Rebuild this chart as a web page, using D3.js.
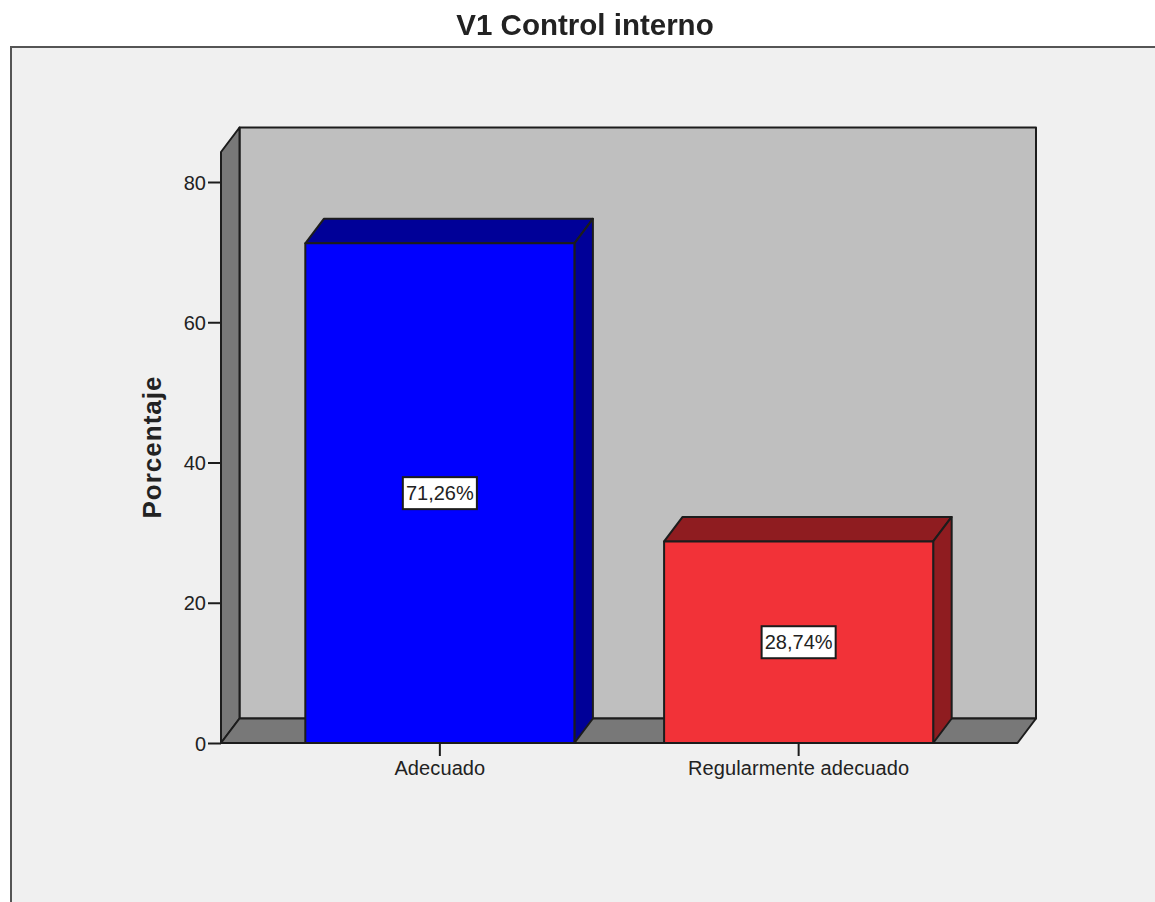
<!DOCTYPE html>
<html lang="en">
<head>
    <meta charset="utf-8">
    <title>V1 Control interno</title>
    <script src="https://d3js.org/d3.v7.min.js"></script>
    <style>
        html, body { margin: 0; padding: 0; background: #fff; overflow: hidden; }
        /* the reference is a slightly soft upscaled screenshot */
        svg { display: block; filter: blur(0.45px); }
        text { font-family: "Liberation Sans", Arial, sans-serif; fill: #222; }
    </style>
</head>
<body>
<svg id="chart"></svg>
<script>
    const categories = ["Adecuado", "Regularmente adecuado"];
    const percentages = [71.26, 28.74];
    const valueLabels = ["71,26%", "28,74%"];
    const yTicks = [0, 20, 40, 60, 80];
    const frontColors = ["#0000ff", "#f23238"];
    const darkColors = ["#000098", "#8f1c20"];

    let width = 1155,
        height = 902,
        plot = {left: 221, right: 1017.5, top: 152, bottom: 743},
        depth = {x: 18.5, y: -24.5},
        line = "#1c1c1c";

    let svg = d3.select("#chart")
        .attr("width", width)
        .attr("height", height);

    let y = d3.scaleLinear()
        .domain([0, 80])
        .range([plot.bottom, 182]);

    let x = d3.scaleBand()
        .domain(categories)
        .range([plot.left, plot.right])
        .paddingInner(0.25)
        .paddingOuter(0.235);

    // outer frame, runs off the right and bottom of the picture
    svg.append("rect")
        .attr("x", 11)
        .attr("y", 47)
        .attr("width", width + 20)
        .attr("height", height)
        .attr("fill", "#f0f0f0")
        .attr("stroke", "#555")
        .attr("stroke-width", 2);

    function poly(points, fill) {
        svg.append("path")
            .attr("d", d3.line()(points) + "Z")
            .attr("fill", fill)
            .attr("stroke", line)
            .attr("stroke-width", 2)
            .attr("stroke-linejoin", "round");
    }

    let l = plot.left, r = plot.right, t = plot.top, b = plot.bottom;

    // walls
    poly([[l + depth.x, t + depth.y], [r + depth.x, t + depth.y], [r + depth.x, b + depth.y], [l + depth.x, b + depth.y]], "#bfbfbf");
    poly([[l, t], [l + depth.x, t + depth.y], [l + depth.x, b + depth.y], [l, b]], "#787878");
    poly([[l, b], [l + depth.x, b + depth.y], [r + depth.x, b + depth.y], [r, b]], "#787878");

    // bars
    categories.forEach((c, i) => {
        let x0 = x(c),
            x1 = x(c) + x.bandwidth(),
            top = y(percentages[i]);
        poly([[x0, top], [x0 + depth.x, top + depth.y], [x1 + depth.x, top + depth.y], [x1, top]], darkColors[i]);
        poly([[x1, top], [x1 + depth.x, top + depth.y], [x1 + depth.x, b + depth.y], [x1, b]], darkColors[i]);
        poly([[x0, top], [x1, top], [x1, b], [x0, b]], frontColors[i]);
    });

    // axes
    let yAxis = svg.append("g")
        .attr("transform", `translate(${plot.left},0)`)
        .call(d3.axisLeft(y).tickValues(yTicks).tickSize(13).tickPadding(2));

    let xAxis = svg.append("g")
        .attr("transform", `translate(0,${plot.bottom})`)
        .call(d3.axisBottom(x).tickSize(13).tickPadding(5));

    [yAxis, xAxis].forEach(a => {
        a.select(".domain").remove();
        a.selectAll(".tick line").attr("stroke", line).attr("stroke-width", 2);
        a.selectAll(".tick text").style("font-family", "'Liberation Sans', Arial, sans-serif").style("font-size", "20px").attr("fill", "#222");
    });
    yAxis.selectAll(".tick text").attr("dy", "0.35em");
    xAxis.selectAll(".tick text").style("letter-spacing", "0.1px");

    // value labels in white boxes
    categories.forEach((c, i) => {
        let g = svg.append("g")
            .attr("transform", `translate(${x(c) + x.bandwidth() / 2},${y(percentages[i] / 2)})`);
        let box = g.append("rect")
            .attr("fill", "#fff")
            .attr("stroke", line)
            .attr("stroke-width", 2);
        let label = g.append("text")
            .attr("text-anchor", "middle")
            .attr("dy", "0.36em")
            .style("font-size", "20px")
            .text(valueLabels[i]);
        let w = label.node().getBBox().width + 6;
        box.attr("x", -w / 2).attr("y", -16).attr("width", w).attr("height", 32);
    });

    svg.append("text")
        .attr("x", 585)
        .attr("y", 35)
        .attr("text-anchor", "middle")
        .style("font-size", "29.5px")
        .style("font-weight", "bold")
        .text("V1 Control interno");

    svg.append("text")
        .attr("transform", "translate(161,447) rotate(-90)")
        .attr("text-anchor", "middle")
        .style("font-size", "26px")
        .style("font-weight", "bold")
        .style("letter-spacing", "1px")
        .text("Porcentaje");
</script>
</body>
</html>
